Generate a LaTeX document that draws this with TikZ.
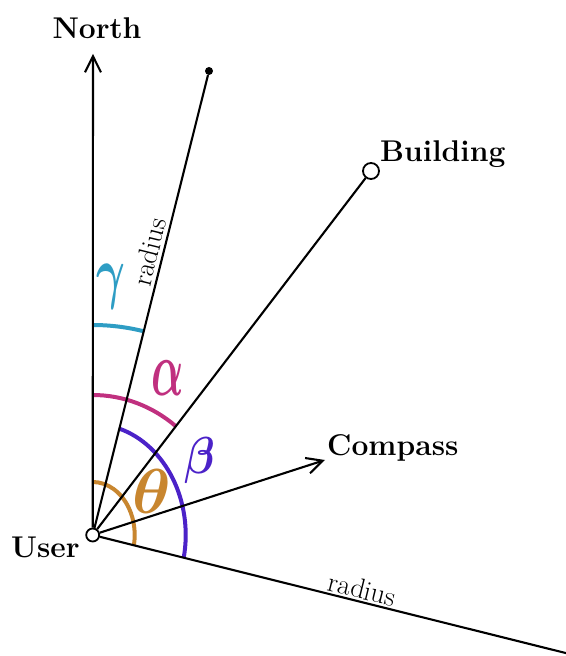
\RequirePackage{fix-cm}
\documentclass[tikz,border=0pt]{standalone}
\usetikzlibrary{arrows.meta}
\definecolor{cgam}{RGB}{46,157,196}
\definecolor{calp}{RGB}{192,48,127}
\definecolor{cbet}{RGB}{75,34,200}
\definecolor{cthe}{RGB}{200,134,47}
\begin{document}
\begin{tikzpicture}[x=1pt,y=1pt,
  ray/.style={line width=2.1pt},
  arr/.style={ray,-{Straight Barb[length=16pt,width=16pt]}},
  arcline/.style={line width=4pt},
  lbl/.style={font=\fontsize{30}{34}\selectfont\bfseries, inner sep=0pt},
  rlbl/.style={font=\fontsize{28}{32}\selectfont, inner sep=0pt},
  greek/.style={inner sep=0pt, font=\fontsize{52}{56}\selectfont\boldmath},
  hole/.style={circle, draw, fill=white, line width=1.8pt, inner sep=0pt, minimum size=13pt},
  dotn/.style={circle, fill, inner sep=0pt, minimum size=8pt}]
\useasboundingbox (0,0) rectangle (565,656);
\coordinate (u) at (92.7,121);
\coordinate (N) at (93,602);
\coordinate (C) at (325,196);
\coordinate (E) at (566,2.9);
% angle arcs
\draw[arcline, cgam] ([shift={(u)}]90:210) arc[start angle=90, end angle=76, radius=210];
\draw[arcline, calp] ([shift={(u)}]90:132 and 140) arc[start angle=90, end angle=51, x radius=132, y radius=140];
\draw[arcline, cbet] ([shift={(u)}]73.4:93 and 111) arc[start angle=73.4, end angle=-11.8, x radius=93, y radius=111];
\draw[arcline, cthe] ([shift={(u)}]90:42 and 53) arc[start angle=90, end angle=-11.2, x radius=42, y radius=53];
% nodes
\node[hole] (U) at (u) {};
\node[hole, minimum size=16pt] (B) at (371,485) {};
\node[dotn] (D) at (209,585) {};
% rays
\draw[arr] (U) -- (N);
\draw[ray] (U) -- (D);
\draw[ray] (U) -- (B);
\draw[arr] (U) -- (C);
\draw[ray] (U) -- (E);
% labels
\node[lbl, anchor=base] (tN) at (97,617) {North};
\node[lbl, anchor=base west] (tB) at (380,494) {Building};
\node[lbl, anchor=base west] (tC) at (327,200) {Compass};
\node[lbl, anchor=base west] (tU) at (11,98) {User};
\node[rlbl, rotate=76] (r1) at (149,404.2) {radius};
\node[rlbl, rotate=-14] (r2) at (362.5,67) {radius};
% greek
\node[greek, text=cgam] (g) at (111,369) {\scalebox{0.85}[1.35]{$\gamma$}};
\node[greek, text=calp] (a) at (168,278) {\scalebox{0.82}[1.5]{$\alpha$}};
\node[greek, text=cbet] (b) at (200,195) {\scalebox{0.85}[1]{$\beta$}};
\node[greek, text=cthe] (t) at (152,165) {\scalebox{1.25}[1.22]{$\theta$}};
\end{tikzpicture}
\end{document}
